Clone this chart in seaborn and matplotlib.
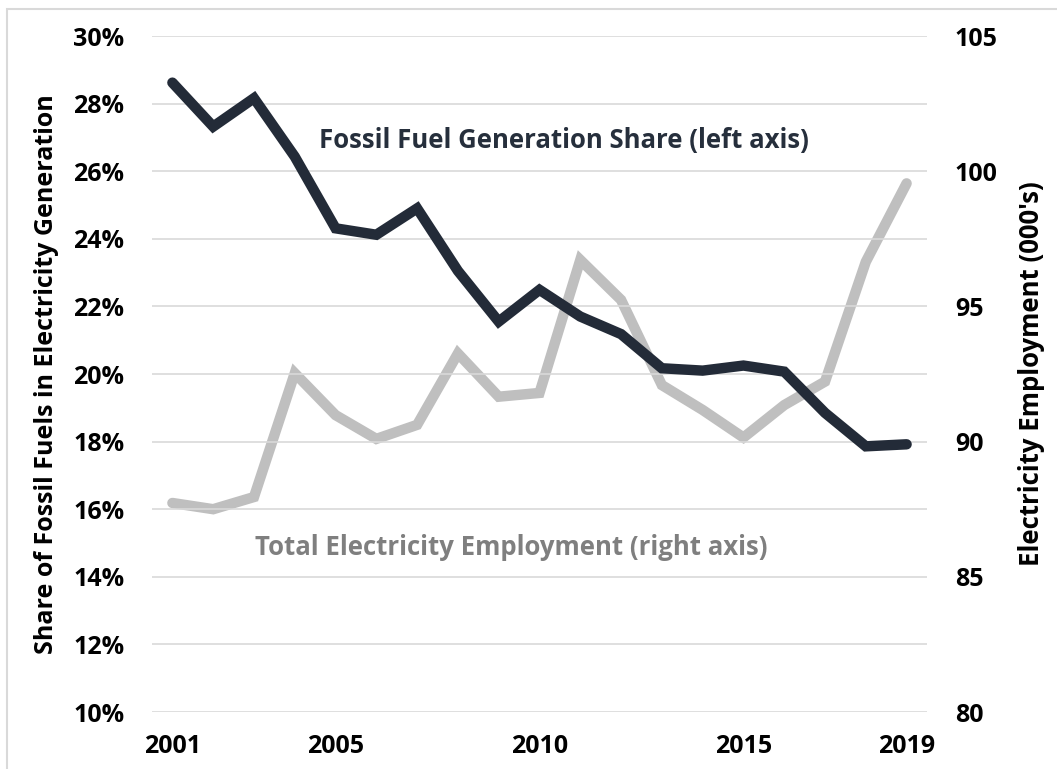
import matplotlib
matplotlib.use("Agg")
import matplotlib.pyplot as plt
import matplotlib.ticker as mticker
from matplotlib.patches import Rectangle
import seaborn as sns
import pandas as pd

sns.set_theme(style="white")
plt.rcParams['font.family'] = ['Open Sans', 'DejaVu Sans']

# data
years = list(range(2001, 2020))
fossil_share = [28.62, 27.32, 28.16, 26.43, 24.31, 24.12, 24.90, 23.05, 21.55, 22.49,
                21.70, 21.18, 20.17, 20.10, 20.25, 20.07, 18.85, 17.86, 17.92]
employment = [87.73, 87.50, 87.95, 92.53, 90.98, 90.10, 90.62, 93.26, 91.66, 91.80,
              96.72, 95.24, 92.09, 91.17, 90.15, 91.35, 92.22, 96.65, 99.55]
year_ticks = [2001, 2005, 2010, 2015, 2019]

df = pd.DataFrame({"year": years, "share": fossil_share, "emp": employment})

dark = "#232B38"
light = "#BFBFBF"
grid_col = "#D9D9D9"

fig = plt.figure(figsize=(10.57, 7.69), dpi=100)
ax = fig.add_axes([152/1057, 1-712/769, (927-152)/1057, (712-36)/769])
ax2 = ax.twinx()

sns.lineplot(data=df, x="year", y="share", ax=ax, color=dark, lw=7.5,
             solid_joinstyle="miter", zorder=3)
sns.lineplot(data=df, x="year", y="emp", ax=ax2, color=light, lw=7.5,
             solid_joinstyle="miter", zorder=2)

# dark line on top of grey one
ax.set_zorder(ax2.get_zorder() + 1)
ax.patch.set_visible(False)

ax.set_xlim(2000.5, 2019.5)
ax.set_ylim(10, 30)
ax2.set_ylim(80, 105)
ax.set_yticks(range(10, 31, 2))
ax2.set_yticks(range(80, 106, 5))
ax.set_xticks(year_ticks)
ax.yaxis.set_major_formatter(mticker.FuncFormatter(lambda v, p: f"{v:.0f}%"))

ax.grid(False)
ax2.grid(False)
for v in range(10, 31, 2):
    ax.axhline(v, color=grid_col, lw=1.2, zorder=0)

for a in (ax, ax2):
    for s in a.spines.values():
        s.set_visible(False)

ax.tick_params(axis="y", length=0, pad=20)
ax.tick_params(axis="x", length=0, pad=16)
ax2.tick_params(axis="y", length=0, pad=20)
for lab in ax.get_yticklabels() + ax.get_xticklabels() + ax2.get_yticklabels():
    lab.set_fontsize(18)
    lab.set_fontweight("bold")
    lab.set_color("black")

ax.set_xlabel("")
ax.set_ylabel("Share of Fossil Fuels in Electricity Generation", fontsize=18,
              fontweight="bold", labelpad=10, color="black")
ax2.set_ylabel("Electricity Employment (000's)", fontsize=18.5, fontweight="bold",
               labelpad=15, color="black")

ax.text(0.532, 0.846, "Fossil Fuel Generation Share (left axis)", transform=ax.transAxes,
        ha="center", va="center", fontsize=18.5, fontweight="bold", color="#262F3C")
ax.text(0.463, 0.243, "Total Electricity Employment (right axis)", transform=ax.transAxes,
        ha="center", va="center", fontsize=18.5, fontweight="bold", color="#7F7F7F")

# chart area border (cropped on right and bottom)
fig.patches.append(Rectangle((7/1057, -0.05), 1.1, 1.05 - 9/769, transform=fig.transFigure,
                             fill=False, edgecolor=grid_col, lw=1.5))

fig.savefig("out.png", dpi=100)
